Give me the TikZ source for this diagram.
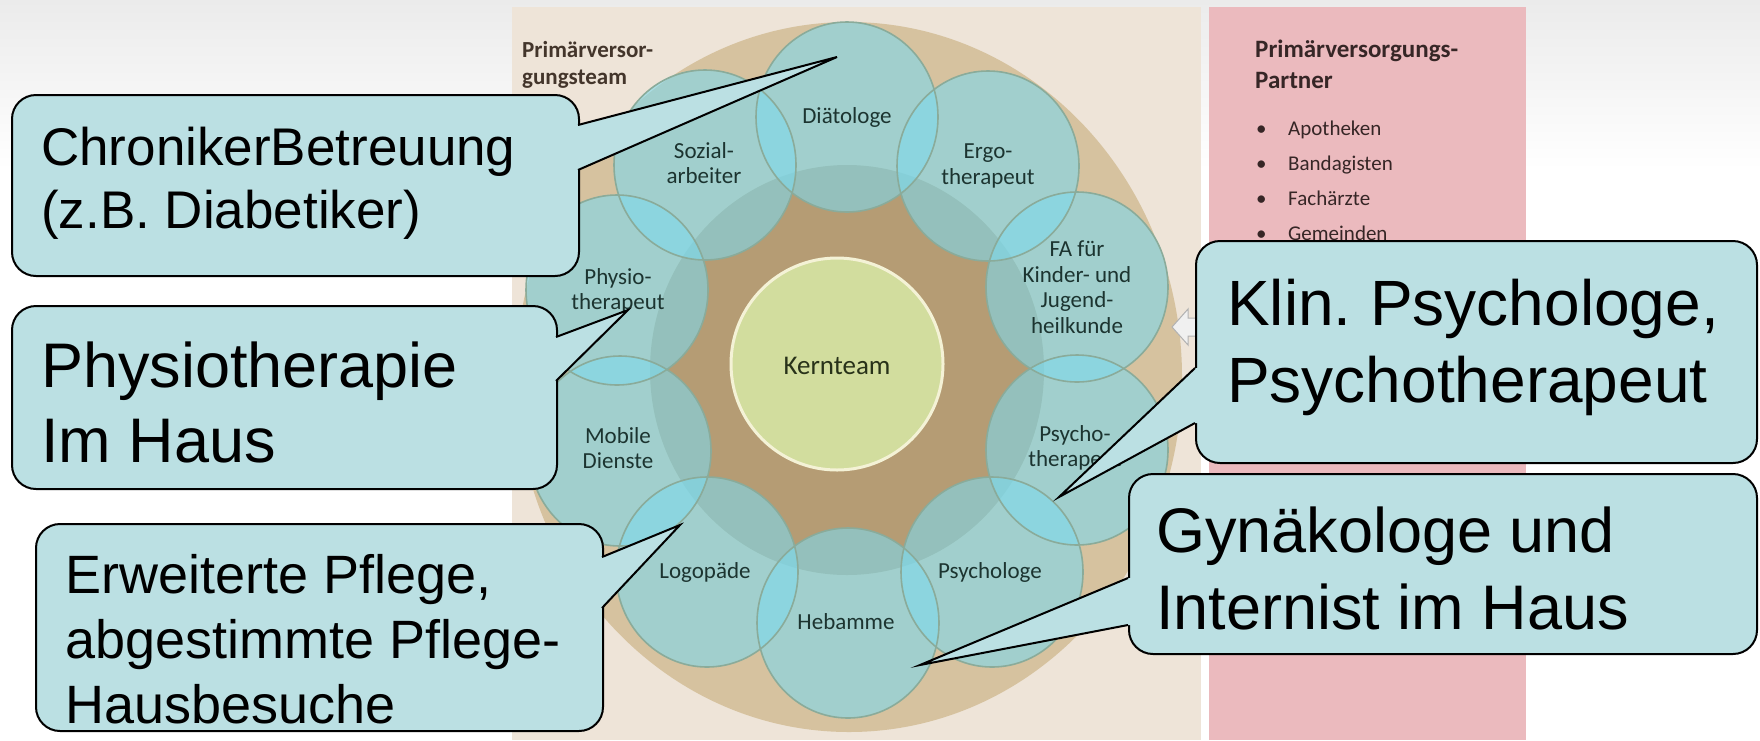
\documentclass[tikz,border=0pt]{standalone}
\usepackage{fontspec}
\setmainfont{Liberation Sans}
\newfontfamily\calib{Carlito}
\usetikzlibrary{calc}
\definecolor{bgtop}{HTML}{EBEBEB}
\definecolor{beige}{HTML}{EEE4D8}
\definecolor{pinkp}{HTML}{EBBABE}
\definecolor{tanring}{HTML}{D6C29F}
\definecolor{browndisc}{HTML}{B59C74}
\definecolor{tealc}{HTML}{7ED9EC}
\definecolor{tealline}{HTML}{8AAB9A}
\definecolor{kernfill}{HTML}{D2DD9E}
\definecolor{kernline}{HTML}{F4F2D6}
\definecolor{cfill}{HTML}{BBE0E3}
\definecolor{lblc}{HTML}{1C3430}
\definecolor{kerntext}{HTML}{283219}
\definecolor{ptext}{HTML}{43352B}
\definecolor{pktext}{HTML}{362626}
\begin{document}
\begin{tikzpicture}[x=1pt,y=-1pt,
  cbox/.style={draw=black,line width=2pt,fill=cfill,rounded corners=24pt,inner sep=0pt,anchor=north west},
  cwedge/.style={draw=black,line width=2pt,line join=miter,miter limit=10},
  ctext/.style={anchor=base west,inner sep=0pt,text=black},
  lbl/.style={font=\calib\fontsize{23}{25.5}\selectfont,text=lblc,align=center,inner sep=0pt},
  ptitle/.style={anchor=base west,inner sep=0pt,font=\calib\bfseries\fontsize{23}{27}\selectfont,text=ptext},
  pktitle/.style={anchor=base west,inner sep=0pt,font=\calib\bfseries\fontsize{25}{30}\selectfont,text=pktext},
  pkitem/.style={anchor=base west,inner sep=0pt,font=\calib\fontsize{21}{25}\selectfont,text=pktext},
  ringfill/.style={fill=tealc,fill opacity=0.6},
  ringline/.style={draw=tealline,line width=1.6pt}]
\useasboundingbox (0,0) rectangle (1760,740);
% background
\fill[white] (0,0) rectangle (1760,740);
\shade[top color=bgtop,bottom color=white] (0,0) rectangle (1760,170);
\fill[beige] (512,7) rectangle (1201,740);
\fill[pinkp] (1209,7) rectangle (1526,740);
% rings
\fill[tanring] (849,377) ellipse [x radius=333,y radius=355];
\fill[browndisc] (847,370) ellipse [x radius=197,y radius=205];
\foreach \cx/\cy in {847/117,988/166,1077/287,1077/450,992/572,848/623,707/572,620/451,617/290,705/165}
  \fill[ringfill] (\cx,\cy) ellipse [x radius=91,y radius=95];
\foreach \cx/\cy in {847/117,988/166,1077/287,1077/450,992/572,848/623,707/572,620/451,617/290,705/165}
  \draw[ringline] (\cx,\cy) ellipse [x radius=91,y radius=95];
\draw[kernline,line width=3pt,fill=kernfill] (837,364) circle [radius=106];
\node[font=\calib\fontsize{27}{30}\selectfont,text=kerntext,inner sep=0pt] (kern) at (837,366) {Kernteam};
% labels
\node[lbl] (lDia) at (847,117) {Diätologe};
\node[lbl] (lErgo) at (988,166) {Ergo-\\therapeut};
\node[lbl] (lFA) at (1077,287) {FA für\\Kinder- und\\Jugend-\\heilkunde};
\node[lbl] (lPsyT) at (1075,448) {Psycho-\\therapeut};
\node[lbl] (lPsyL) at (990,572) {Psychologe};
\node[lbl] (lHeb) at (846,622) {Hebamme};
\node[lbl] (lLogo) at (705,572) {Logopäde};
\node[lbl] (lMob) at (618,448) {Mobile\\Dienste};
\node[lbl] (lPhy) at (618,291) {Physio-\\therapeut};
\node[lbl] (lSoz) at (704,163) {Sozial-\\arbeiter};
% panel titles
\node[ptitle] (pt1) at (522,57) {Primärversor-};
\node[ptitle] (pt2) at (522,84) {gungsteam};
\node[pktitle] (pk1) at (1255,57) {Primärversorgungs-};
\node[pktitle] (pk2) at (1255,88) {Partner};
\foreach \nm/\yy/\tx in {a/135/Apotheken,b/170/Bandagisten,c/205/Fachärzte,d/240/Gemeinden}{
  \node[pkitem] (bul\nm) at (1256,\yy) {•};
  \node[pkitem] (item\nm) at (1288,\yy) {\tx};
}
% small arrow between panels
\draw[gray!60,fill=gray!12,line width=1pt] (1172,327) -- (1188,309) -- (1188,318) -- (1205,318) -- (1205,336) -- (1188,336) -- (1188,345) -- cycle;
% callout 1
\node[cbox,minimum width=567pt,minimum height=181pt] (c1) at (11,94) {};
\coordinate (c1a) at (578,125); \coordinate (c1b) at (578,170); \coordinate (c1t) at (837,57);
\fill[cfill] (c1a) -- (c1t) -- (c1b) -- ($(c1b)+(-4,0)$) -- ($(c1a)+(-4,0)$) -- cycle;
\draw[cwedge] (c1a) -- (c1t) -- (c1b);
\node[ctext,font=\fontsize{53}{60}\selectfont] (c1l1) at (41,165) {ChronikerBetreuung};
\node[ctext,font=\fontsize{53}{60}\selectfont] (c1l2) at (41,228) {(z.B. Diabetiker)};
% callout 2
\node[cbox,minimum width=545pt,minimum height=183pt] (c2) at (11,305) {};
\coordinate (c2a) at (556,337); \coordinate (c2b) at (556,381); \coordinate (c2t) at (628,310);
\fill[cfill] (c2a) -- (c2t) -- (c2b) -- ($(c2b)+(-4,0)$) -- ($(c2a)+(-4,0)$) -- cycle;
\draw[cwedge] (c2a) -- (c2t) -- (c2b);
\node[ctext,font=\fontsize{63}{72}\selectfont] (c2l1) at (41,387) {Physiotherapie};
\node[ctext,font=\fontsize{63}{72}\selectfont] (c2l2) at (41,462) {Im Haus};
% callout 3
\node[cbox,minimum width=567pt,minimum height=207pt] (c3) at (35,523) {};
\coordinate (c3a) at (602,557); \coordinate (c3b) at (602,608); \coordinate (c3t) at (680,525);
\fill[cfill] (c3a) -- (c3t) -- (c3b) -- ($(c3b)+(-4,0)$) -- ($(c3a)+(-4,0)$) -- cycle;
\draw[cwedge] (c3a) -- (c3t) -- (c3b);
\node[ctext,font=\fontsize{54}{62}\selectfont] (c3l1) at (65,593) {Erweiterte Pflege,};
\node[ctext,font=\fontsize{54}{62}\selectfont] (c3l2) at (65,658) {abgestimmte Pflege-};
\node[ctext,font=\fontsize{54}{62}\selectfont] (c3l3) at (65,723) {Hausbesuche};
% callout 4
\node[cbox,minimum width=561pt,minimum height=222pt] (c4) at (1195,240) {};
\coordinate (c4a) at (1195,368); \coordinate (c4b) at (1195,423); \coordinate (c4t) at (1059,497);
\fill[cfill] (c4a) -- (c4t) -- (c4b) -- ($(c4b)+(4,0)$) -- ($(c4a)+(4,0)$) -- cycle;
\draw[cwedge] (c4a) -- (c4t) -- (c4b);
\node[ctext,font=\fontsize{64}{74}\selectfont] (c4l1) at (1227,325) {Klin.\hspace{-0.08em} Psychologe,};
\node[ctext,font=\fontsize{64}{74}\selectfont] (c4l2) at (1227,402) {Psychotherapeut};
% callout 5
\node[cbox,minimum width=628pt,minimum height=180pt] (c5) at (1128,473) {};
\coordinate (c5a) at (1128,578); \coordinate (c5b) at (1128,625); \coordinate (c5t) at (920,665);
\fill[cfill] (c5a) -- (c5t) -- (c5b) -- ($(c5b)+(4,0)$) -- ($(c5a)+(4,0)$) -- cycle;
\draw[cwedge] (c5a) -- (c5t) -- (c5b);
\node[ctext,font=\fontsize{63}{74}\selectfont] (c5l1) at (1156,552) {Gynäkologe und};
\node[ctext,font=\fontsize{63}{74}\selectfont] (c5l2) at (1156,629) {Internist im Haus};
\end{tikzpicture}
\end{document}
